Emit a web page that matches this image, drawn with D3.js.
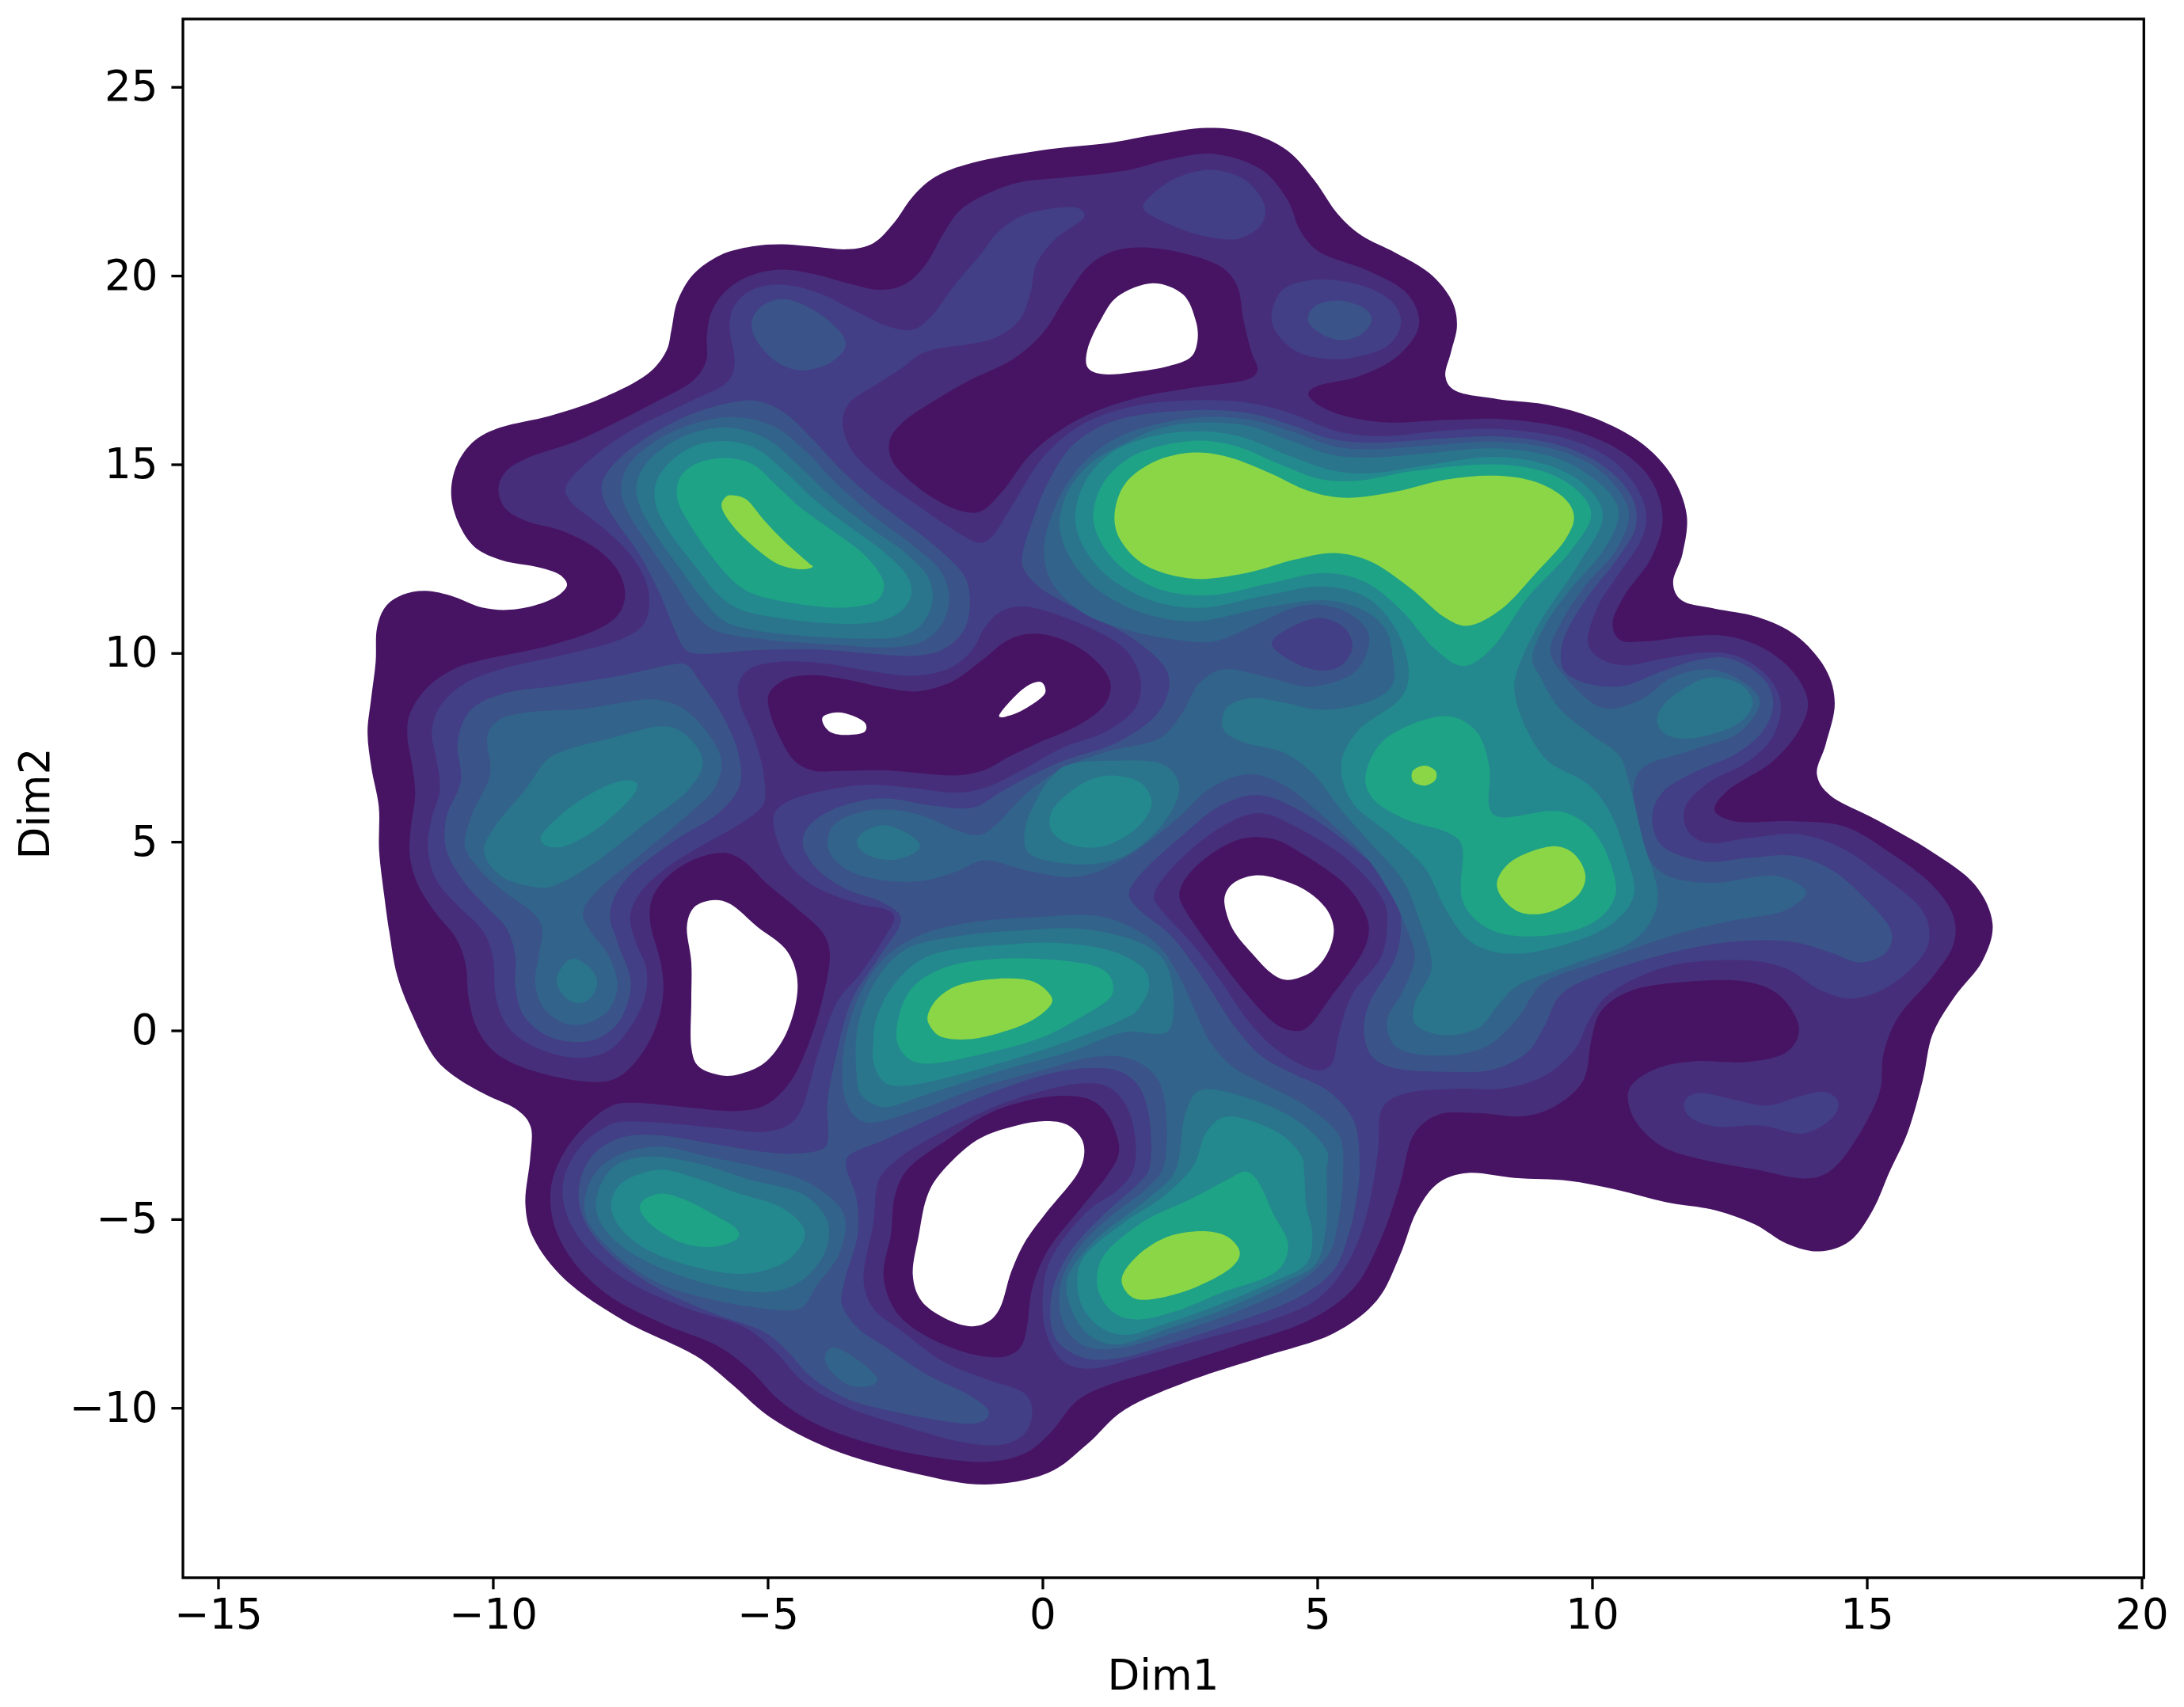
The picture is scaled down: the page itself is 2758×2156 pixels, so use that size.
<!DOCTYPE html>
<html><head><meta charset="utf-8">
<script src="https://cdn.jsdelivr.net/npm/d3@7"></script>
<style>html,body{margin:0;padding:0;background:#fff}svg{display:block}text{font-family:"DejaVu Sans";fill:#000}</style>
</head><body><svg id="c" width="2758" height="2156"></svg>
<script>
const xDomain=[-15.64,20.04], yDomain=[-14.5,26.8];
const xTicks=[-15,-10,-5,0,5,10,15,20], yTicks=[-10,-5,0,5,10,15,20,25];
const xLabel="Dim1", yLabel="Dim2";
const levelColors=["#471463","#472e7a","#423f86","#3a5489","#32648b","#2a758c","#23898e","#1fa386","#8bd646"];

// Density contours, in data units [Dim1, Dim2]
const L0outer=[[-1.39,22.98],[0,23.35],[1.28,23.51],[2.01,23.73],[3.02,23.96],[3.76,23.83],[4.49,23.35],[4.95,22.55],[5.37,21.59],[5.78,21.05],[6.42,20.62],[7.07,20.09],[7.48,19.34],[7.57,18.7],[7.43,17.95],[7.3,17.3],[7.43,16.93],[8.26,16.72],[9.18,16.61],[10.1,16.23],[10.93,15.59],[11.48,14.73],[11.77,13.66],[11.66,12.59],[11.43,11.84],[11.57,11.36],[12.21,11.18],[13.02,10.99],[13.73,10.52],[14.3,9.56],[14.46,8.7],[14.25,7.52],[14.04,6.77],[14.25,6.24],[15.17,5.6],[16.2,4.74],[17.03,3.88],[17.35,2.81],[17.15,1.85],[16.57,0.88],[16.16,-0.08],[16.04,-1.26],[15.75,-2.76],[15.41,-3.72],[15.12,-4.79],[14.71,-5.65],[14.13,-5.91],[13.55,-5.7],[12.97,-5.11],[12.28,-4.74],[11.35,-4.58],[10.42,-4.2],[9.61,-3.96],[8.57,-3.93],[7.7,-3.72],[7.18,-3.99],[6.79,-4.76],[6.51,-5.98],[6.13,-7.2],[5.35,-8.07],[4.03,-8.63],[2.71,-9.24],[1.39,-10.05],[0.83,-10.97],[0.17,-11.78],[-1.04,-12.11],[-2.25,-11.78],[-3.91,-11.12],[-5.01,-10.25],[-5.67,-9.34],[-6.22,-8.63],[-7.66,-7.71],[-8.76,-6.59],[-9.31,-5.47],[-9.44,-4.66],[-9.31,-3.34],[-9.28,-2.52],[-9.49,-2.12],[-10.15,-1.7],[-10.65,-1.28],[-11.06,-0.81],[-11.47,0.4],[-11.76,1.43],[-11.89,2.65],[-11.97,3.49],[-12.09,4.8],[-12.05,5.93],[-12.22,6.96],[-12.3,7.9],[-12.22,8.74],[-12.12,9.77],[-12.13,10.7],[-11.97,11.26],[-11.67,11.56],[-11.23,11.68],[-10.72,11.52],[-10.2,11.17],[-9.69,11.12],[-9.1,11.3],[-8.73,11.59],[-8.62,11.82],[-8.77,12.1],[-9.17,12.29],[-9.84,12.43],[-10.35,12.76],[-10.64,13.42],[-10.79,14.21],[-10.68,15.01],[-10.35,15.66],[-9.91,15.99],[-8.95,16.27],[-8.07,16.69],[-7.12,17.39],[-6.82,18],[-6.75,18.56],[-6.67,19.31],[-6.38,20.06],[-5.87,20.58],[-5.28,20.79],[-4.76,20.85],[-4.17,20.77],[-3.51,20.67],[-3.07,20.81],[-2.7,21.37],[-2.37,22.12],[-1.97,22.64]];
const hole1=[[2.01,19.8],[2.56,19.5],[2.79,18.8],[2.82,18.27],[2.7,17.84],[2.29,17.6],[1.64,17.44],[1.09,17.39],[0.82,17.57],[0.82,18.05],[1.05,18.8],[1.37,19.45]];
const hole2=[[-0.01,9.22],[0.05,8.95],[-0.2,8.63],[-0.56,8.36],[-0.79,8.33],[-0.47,8.9],[-0.2,9.19]];
const hole3=[[-3.99,8.32],[-3.74,8.43],[-3.45,8.34],[-3.22,8.13],[-3.24,7.91],[-3.57,7.83],[-3.85,7.9],[-3.99,8.13]];
const hole4=[[-6.01,3.45],[-5.68,3.35],[-5.19,2.75],[-4.69,2.18],[-4.48,1.53],[-4.48,0.78],[-4.69,-0.16],[-5.06,-0.86],[-5.52,-1.16],[-5.85,-1.19],[-6.26,-0.95],[-6.39,-0.44],[-6.39,0.78],[-6.39,1.81],[-6.47,2.75],[-6.34,3.26]];
const hole5=[[3.9,4.11],[4.28,4.02],[4.76,3.74],[5.15,3.25],[5.3,2.69],[5.19,2.06],[4.91,1.57],[4.47,1.34],[4.18,1.5],[3.8,2.06],[3.46,2.69],[3.31,3.39],[3.37,3.74],[3.56,3.98]];
const hole6=[[0.05,-2.4],[0.44,-2.49],[0.7,-2.84],[0.76,-3.26],[0.63,-3.81],[0.05,-4.86],[-0.33,-5.63],[-0.57,-6.4],[-0.76,-7.31],[-0.96,-7.69],[-1.29,-7.84],[-1.77,-7.63],[-2.2,-7.17],[-2.36,-6.47],[-2.25,-5.42],[-2.11,-4.44],[-1.87,-3.81],[-1.2,-2.91],[-0.48,-2.52]];

const L1outer=[[-1.1,22.12],[-1.53,21.75],[-1.82,21.09],[-2.12,20.25],[-2.48,19.74],[-2.92,19.58],[-3.51,19.78],[-4.17,20.06],[-4.76,20.2],[-5.35,20.02],[-5.79,19.6],[-6.05,19.03],[-6.12,18.38],[-6.09,17.72],[-6.31,17.21],[-7.04,16.65],[-7.85,16.04],[-8.51,15.57],[-9.39,15.19],[-9.8,14.82],[-9.93,14.35],[-9.8,13.79],[-9.39,13.46],[-8.73,13.27],[-8.07,12.76],[-7.7,12.2],[-7.56,11.54],[-7.7,10.98],[-8.07,10.61],[-8.95,10.18],[-10.42,9.76],[-10.73,9.58],[-11.22,9.11],[-11.55,8.36],[-11.57,7.8],[-11.47,7.05],[-11.39,6.3],[-11.51,5.27],[-11.53,4.62],[-11.39,3.87],[-11.06,3.12],[-10.65,2.46],[-10.48,1.81],[-10.46,0.87],[-10.31,0.03],[-9.98,-0.63],[-9.32,-1.09],[-8.25,-1.4],[-7.75,-1.33],[-7.34,-0.77],[-7,0.12],[-6.88,1.06],[-6.92,1.72],[-7.17,2.93],[-7.13,3.5],[-6.84,4.1],[-6.34,4.57],[-5.76,4.76],[-5.43,4.52],[-5.02,3.87],[-4.44,3.21],[-3.95,2.56],[-3.84,2.09],[-3.98,0.87],[-4.27,-0.46],[-4.56,-1.37],[-5.02,-2.03],[-5.52,-2.17],[-6.51,-2.03],[-7.5,-1.89],[-7.83,-1.94],[-8.33,-2.5],[-8.74,-3.25],[-8.98,-4.15],[-8.92,-5.17],[-8.54,-6.19],[-7.88,-7.1],[-6.88,-7.81],[-5.89,-8.32],[-5.34,-8.93],[-4.79,-9.85],[-4.13,-10.46],[-3.13,-10.97],[-2.03,-11.32],[-0.93,-11.48],[-0.27,-11.22],[0.17,-10.66],[0.61,-9.75],[1.17,-9.39],[2.16,-8.98],[3.48,-8.37],[4.91,-7.71],[5.69,-6.9],[6.13,-5.68],[6.51,-4.15],[6.72,-2.65],[7.18,-2.17],[7.88,-2.17],[8.8,-2.33],[9.38,-2],[9.9,-1.37],[9.98,-0.19],[10.13,0.56],[10.66,1.1],[11.7,1.31],[12.86,1.34],[13.44,0.99],[13.84,0.03],[13.61,-0.61],[12.86,-0.88],[11.81,-0.78],[11.12,-0.99],[10.6,-1.52],[10.71,-2.33],[11.24,-3.13],[12.05,-3.45],[12.97,-3.67],[13.96,-3.99],[14.36,-3.77],[14.88,-2.76],[15.29,-1.58],[15.27,-0.62],[15.52,0.35],[16.22,1.42],[16.62,2.28],[16.62,3.03],[16.22,3.88],[15.41,4.74],[14.6,5.49],[13.67,5.56],[12.51,5.49],[12.16,5.81],[12.39,6.34],[13.32,7.09],[13.79,7.95],[13.99,8.7],[13.67,9.56],[13.09,10.2],[12.4,10.5],[11.75,10.45],[10.93,10.29],[10.47,10.29],[10.33,10.77],[10.56,11.52],[11.11,12.49],[11.34,13.56],[11.11,14.63],[10.56,15.38],[9.64,15.97],[8.44,16.23],[7.34,16.18],[6.24,16.07],[5.41,16.29],[4.95,16.61],[4.81,16.88],[4.91,17.07],[5.78,17.3],[6.51,17.84],[6.93,18.7],[6.7,19.55],[5.96,20.14],[4.95,20.62],[4.68,21.16],[4.49,22.01],[4.03,22.87],[3.11,23.3],[2.29,23.09],[1.55,22.76],[0.45,22.6],[-0.47,22.5]];
const pocket1=[[1.83,20.78],[2.56,20.62],[3.3,20.25],[3.57,19.77],[3.65,18.8],[3.8,17.95],[3.94,17.47],[3.85,17.25],[2.75,17.04],[1.64,16.77],[0.63,16.23],[-0.2,15.38],[-0.75,14.2],[-1.11,13.72],[-1.31,13.7],[-1.75,13.88],[-2.34,14.44],[-2.78,15.1],[-2.81,15.66],[-2.56,16.13],[-1.97,16.69],[-1.39,17.2],[-0.47,17.79],[0.04,18.48],[0.4,19.39],[0.82,20.3],[1.28,20.68]];
const pocket2=[[-5.02,8.93],[-4.69,9.35],[-4.19,9.44],[-3.53,9.3],[-2.87,9.07],[-2.29,8.94],[-1.63,9.2],[-1.05,9.86],[-0.64,10.38],[-0.17,10.56],[0.45,10.35],[1,9.81],[1.28,9.22],[1.18,8.63],[0.72,8.1],[-0.15,7.58],[-0.64,7.24],[-1.05,6.87],[-1.55,6.73],[-2.21,6.82],[-2.95,6.91],[-3.61,6.88],[-4.19,6.85],[-4.52,7.1],[-4.77,7.71],[-4.98,8.46]];
const pocket3=[[2.49,3.6],[2.6,3.18],[3.03,2.27],[3.61,1.15],[4.18,0.24],[4.52,0],[4.81,0.07],[5.24,0.87],[5.82,2.06],[5.94,2.69],[5.82,3.25],[5.48,3.91],[4.76,4.65],[4.2,5.07],[3.6,5.07],[2.98,4.58],[2.6,4.02]];
const pocket4=[[-2.52,-3.67],[-1.68,-2.84],[-0.96,-2.14],[-0.23,-1.82],[0.44,-1.7],[0.92,-1.82],[1.2,-2.2],[1.4,-2.97],[1.4,-3.3],[1.21,-3.81],[0.73,-4.65],[0.05,-5.84],[-0.21,-6.82],[-0.28,-7.94],[-0.38,-8.42],[-0.65,-8.68],[-1.26,-8.63],[-2.14,-8.12],[-2.69,-7.51],[-2.95,-6.54],[-2.73,-5.35],[-2.71,-4.37]];

const L2main=[[-1.1,20.58],[-1.6,19.78],[-2.04,18.85],[-2.34,18.52],[-2.78,18.61],[-3.37,19.03],[-4.03,19.55],[-4.69,19.8],[-5.28,19.69],[-5.64,19.22],[-5.72,18.66],[-5.57,17.63],[-5.68,17.16],[-6.38,16.69],[-7.48,15.94],[-8.2,15.2],[-8.75,14.35],[-8.62,14.02],[-8.07,13.42],[-7.56,12.76],[-7.22,12.01],[-7.13,11.36],[-7.23,10.7],[-7.67,10.33],[-8.66,9.96],[-9.9,9.58],[-10.56,9.21],[-11.02,8.55],[-11.14,7.9],[-11.02,7.15],[-10.93,6.4],[-11.14,5.56],[-11.21,4.81],[-11.06,3.96],[-10.65,3.31],[-10.15,2.65],[-9.98,1.99],[-9.97,0.87],[-9.78,0.12],[-9.32,-0.44],[-8.5,-0.78],[-7.91,-0.63],[-7.5,0.03],[-7.21,0.87],[-7.17,1.62],[-7.42,2.37],[-7.54,3.03],[-7.34,3.68],[-6.84,4.34],[-6.26,4.85],[-5.6,5.37],[-5.14,5.84],[-5.04,6.02],[-5.06,6.87],[-5.27,7.9],[-5.52,8.64],[-5.56,9.2],[-5.35,9.63],[-4.77,9.81],[-3.86,9.72],[-3.2,9.53],[-2.29,9.35],[-1.63,9.58],[-1.22,10.14],[-1.1,10.6],[-0.85,11.05],[-0.5,11.25],[-0.2,11.25],[0.91,10.67],[1.55,10.13],[1.83,9.27],[1.74,8.52],[1.18,7.88],[0.34,7.52],[-0.39,6.87],[-1.05,6.4],[-1.55,6.26],[-2.37,6.44],[-3.28,6.54],[-4.03,6.35],[-4.69,6.07],[-4.94,5.74],[-4.81,4.9],[-4.61,4.34],[-4.11,3.73],[-3.28,3.31],[-2.79,3.21],[-2.65,3.03],[-2.87,2.46],[-3.33,1.43],[-3.74,0.87],[-4.08,-0.53],[-4.37,-2.14],[-4.56,-2.49],[-5.02,-2.73],[-5.85,-2.59],[-6.84,-2.45],[-7.67,-2.4],[-7.88,-2.47],[-8.43,-3.03],[-8.76,-3.95],[-8.7,-4.86],[-8.32,-5.78],[-7.55,-6.7],[-6.44,-7.41],[-5.39,-7.81],[-4.9,-8.42],[-4.35,-9.39],[-3.58,-10],[-2.58,-10.46],[-1.37,-10.97],[-0.71,-11.02],[-0.27,-10.7],[-0.16,-10.05],[-0.27,-9.59],[-0.93,-9.29],[-1.81,-8.83],[-2.57,-7.94],[-3.12,-7.38],[-3.31,-6.68],[-3.05,-5.07],[-3.02,-3.88],[-2.64,-3.4],[-2.16,-2.94],[-1.29,-2.28],[-0.43,-1.75],[0.73,-1.35],[1.2,-1.44],[1.54,-1.93],[1.71,-2.84],[1.69,-3.74],[1.35,-4.3],[0.87,-4.65],[0.2,-5.84],[0.01,-6.54],[0,-7.94],[0.34,-8.83],[0.83,-9.03],[1.72,-8.68],[2.93,-8.17],[4.14,-7.71],[5.02,-7.2],[5.58,-6.19],[5.91,-4.96],[6.13,-3.13],[6.13,-2.01],[6.46,-1.66],[7.64,-1.52],[8.4,-1.58],[9.15,-1.26],[9.73,-0.51],[9.96,0.35],[10.25,0.99],[11.35,1.79],[12.86,1.9],[13.55,1.69],[14.13,1.04],[14.71,0.78],[15.41,1.1],[16.1,2.06],[16.16,2.6],[16.04,3.24],[15.29,4.09],[14.6,4.84],[13.79,5.27],[12.86,5.11],[12.05,4.9],[11.7,5.27],[11.64,5.92],[12.05,6.56],[12.86,7.09],[13.32,7.74],[13.49,8.7],[13.2,9.45],[12.63,9.98],[12.05,10.04],[11.35,9.88],[10.54,9.61],[10.08,9.88],[9.87,10.24],[10.1,11.31],[10.47,12.06],[10.93,13.02],[11.02,13.66],[10.83,14.41],[10.38,15.16],[9.64,15.7],[8.36,15.97],[7.34,15.91],[6.24,15.72],[5.41,15.8],[4.49,16.39],[3.76,16.66],[2.75,16.72],[1.74,16.61],[0.72,16.13],[0,15.27],[-0.56,13.88],[-0.93,13.02],[-1.11,12.86],[-1.6,13.23],[-2.34,13.98],[-3.07,14.73],[-3.51,15.38],[-3.67,16.13],[-3.55,16.65],[-3.07,17.07],[-2.56,17.53],[-2.22,17.96],[-1.82,18.1],[-1.39,18.16],[-0.84,18.32],[-0.38,18.8],[-0.2,19.55],[-0.15,20.3],[0.17,20.94],[0.86,21.61],[0.68,21.8],[0.36,21.83],[-0.38,21.64],[-0.84,21.16]];
const L2top=[[3.11,22.8],[3.67,22.55],[4.03,21.91],[3.99,21.37],[3.57,20.98],[2.93,21.05],[2.29,21.37],[1.83,21.8],[2.1,22.28],[2.56,22.66]];
const L2right=[[5.04,19.9],[5.87,19.71],[6.38,19.28],[6.52,18.7],[6.24,18.1],[5.41,17.79],[4.68,17.95],[4.26,18.48],[4.17,19.02],[4.4,19.66]];
const L2lower=[[12.05,-1.66],[12.63,-1.85],[13.2,-1.99],[13.79,-1.74],[14.25,-1.63],[14.48,-1.9],[14.36,-2.33],[13.84,-2.73],[13.09,-2.52],[12.28,-2.55],[11.81,-2.33],[11.67,-2],[11.76,-1.74]];
const L2hole=[[3.94,5.76],[4.63,5.38],[5.56,4.52],[6.2,3.45],[6.27,2.76],[6.15,1.92],[5.63,0.94],[5.39,-0.11],[5.29,-0.81],[5.15,-1.02],[4.9,-1.03],[4.28,-0.53],[3.75,0.24],[3.22,1.36],[2.7,2.34],[2.17,3.18],[2.03,3.6],[2.43,4.42],[3.24,5.38]];

const L3upper=[[-5.2,16.74],[-4.69,16.41],[-4.17,15.66],[-3.66,14.82],[-3,13.98],[-2.19,13.13],[-1.67,12.48],[-1.38,12.01],[-1.3,11.4],[-1.38,10.61],[-1.79,10.05],[-2.29,9.9],[-3.12,9.98],[-3.95,10.1],[-5.19,10.1],[-6.31,9.95],[-6.49,10.04],[-6.67,10.51],[-6.97,11.64],[-7.34,12.67],[-7.78,13.51],[-8.03,14.16],[-8.03,14.63],[-7.56,15.38],[-6.75,16.13],[-5.87,16.6]];
const L3midLeft=[[-6.47,9.72],[-6.26,9.3],[-5.85,8.46],[-5.52,7.43],[-5.45,6.49],[-5.85,5.74],[-6.67,5.09],[-7.67,3.96],[-7.92,3.12],[-7.75,2.37],[-7.42,1.25],[-7.67,0.2],[-8.08,-0.25],[-8.5,-0.34],[-9.07,-0.16],[-9.49,0.4],[-9.61,1.15],[-9.57,2],[-9.73,2.75],[-10.15,3.31],[-10.56,3.96],[-10.89,4.81],[-10.89,5.65],[-10.52,6.58],[-10.69,7.71],[-10.44,8.55],[-9.82,8.97],[-8.91,9.11],[-7.67,9.39],[-6.59,9.75]];
const L3main=[[-0.38,12.59],[-0.2,13.45],[0.08,14.52],[0.54,15.59],[1.28,16.23],[2.75,16.47],[3.76,16.39],[4.49,16.07],[5.23,15.64],[5.96,15.54],[7.34,15.7],[8.36,15.77],[9.46,15.54],[10.28,14.95],[10.79,14.09],[10.84,13.34],[10.47,12.49],[9.92,11.52],[9.55,10.66],[9.41,10.02],[9.46,9.49],[9.87,9.17],[10.56,9.06],[11.2,9.49],[11.85,9.81],[12.4,9.93],[12.86,9.66],[13.26,9.13],[13.32,8.49],[13.09,7.84],[12.63,7.3],[11.81,6.83],[11.24,6.34],[11.06,5.7],[11.18,4.85],[12.05,4.4],[12.86,4.58],[13.67,4.69],[14.36,4.31],[14.94,3.56],[15.52,2.6],[15.41,2.06],[14.88,1.72],[14.37,2.06],[13.67,2.4],[12.51,2.38],[11.35,2.06],[9.96,1.42],[9.38,0.99],[9.15,0.13],[8.86,-0.61],[8.22,-1.1],[7.18,-1.1],[6.35,-1.02],[5.96,-0.74],[5.82,0.03],[5.91,0.73],[6.44,1.85],[6.54,2.69],[6.48,3.77],[5.67,4.85],[4.75,5.81],[3.94,6.34],[3.24,6.02],[2.54,5.17],[1.73,4.1],[1.53,3.6],[1.69,3.25],[2.36,2.55],[2.94,1.36],[3.51,0.03],[3.99,-0.74],[4.57,-1.16],[5.24,-1.58],[5.72,-2.35],[5.79,-3.74],[5.7,-4.6],[5.6,-5.3],[5.35,-6.39],[4.69,-7.1],[3.48,-7.76],[2.38,-8.27],[1.39,-8.73],[0.72,-8.73],[0.17,-8.22],[0.12,-7],[0.45,-5.88],[1.11,-4.86],[1.83,-3.95],[1.97,-3.74],[1.97,-2.28],[1.78,-1.44],[1.4,-1.02],[0.73,-0.98],[0,-1.16],[-1.2,-1.79],[-2.16,-2.42],[-2.88,-2.91],[-3.6,-3.33],[-3.6,-3.54],[-3.36,-4.44],[-3.33,-5.42],[-3.62,-6.68],[-3.7,-7.24],[-3.36,-7.94],[-2.91,-8.32],[-2.14,-9.13],[-1.26,-9.69],[-0.93,-10.1],[-1.04,-10.36],[-1.37,-10.46],[-2.58,-10.15],[-3.58,-9.8],[-4.24,-9.19],[-4.68,-8.42],[-5.01,-7.97],[-6,-7.51],[-7.1,-6.8],[-7.93,-5.88],[-8.37,-5.07],[-8.48,-4.15],[-8.21,-3.24],[-7.66,-2.78],[-6.99,-2.75],[-6.11,-2.98],[-5.12,-3.22],[-4.56,-3.29],[-3.94,-3.15],[-3.89,-2.98],[-3.94,-1.93],[-3.77,-0.74],[-3.5,0.87],[-2.99,1.9],[-2.46,3.03],[-2.87,3.4],[-3.61,3.73],[-4.11,4.24],[-4.4,4.9],[-4.32,5.37],[-3.86,5.88],[-2.95,6.23],[-1.96,5.93],[-1.22,5.84],[-0.8,6.3],[-0.22,6.75],[0.34,7.15],[1.37,7.58],[2.1,8.31],[2.33,9.06],[2.29,9.6],[1.64,10.45],[0.63,11.15],[-0.1,11.74],[-0.38,12.27]];
const L3hole=[[5.04,10.93],[5.5,10.66],[5.64,10.13],[5.41,9.65],[5.04,9.54],[4.58,9.75],[4.17,10.24],[4.49,10.66]];
const L3topLeft=[[-4.69,19.38],[-4.1,19.03],[-3.66,18.47],[-3.59,18.1],[-3.88,17.68],[-4.39,17.49],[-4.84,17.72],[-5.2,18.28],[-5.29,18.75],[-5.13,19.17]];
const L3circle=[[5.37,19.34],[5.87,19.12],[5.99,18.8],[5.78,18.43],[5.41,18.29],[5.05,18.48],[4.83,18.82],[4.95,19.18]];

const L4upper=[[-5.57,16.3],[-4.84,16.04],[-4.32,15.38],[-3.73,14.44],[-3.07,13.6],[-2.34,12.85],[-1.82,12.2],[-1.66,11.45],[-1.82,10.7],[-2.19,10.25],[-2.78,10.12],[-3.81,10.23],[-4.98,10.33],[-6.01,10.56],[-6.31,10.98],[-6.67,11.82],[-7.11,12.76],[-7.56,13.7],[-7.7,14.35],[-7.56,15.01],[-7.04,15.66],[-6.31,16.13]];
const L4midLeft=[[-7,8.81],[-6.51,8.55],[-6.1,7.94],[-5.79,7.15],[-5.93,6.4],[-6.43,5.74],[-7.34,4.62],[-8.16,3.68],[-8.41,3.12],[-8.25,2.65],[-7.87,2],[-7.69,1.15],[-7.87,0.5],[-8.33,0.12],[-8.74,0.17],[-9.11,0.59],[-9.26,1.25],[-9.16,2],[-9.07,2.75],[-9.24,3.12],[-9.82,3.68],[-10.31,4.34],[-10.56,4.9],[-10.4,5.74],[-9.98,6.77],[-10.15,7.9],[-9.9,8.27],[-9.32,8.46],[-8.33,8.5],[-7.67,8.69]];
const L4main=[[2.75,16.29],[3.76,16.23],[4.58,15.86],[5.32,15.43],[5.96,15.38],[6.88,15.48],[8.26,15.64],[9.36,15.43],[10.1,14.95],[10.56,14.2],[10.72,13.66],[10.47,12.7],[9.82,11.74],[9.41,10.77],[9.18,10.02],[9.44,9.45],[10.19,8.38],[10.89,8.7],[11.47,9.45],[12.28,9.66],[13.21,8.81],[12.74,7.84],[11.81,7.42],[10.71,6.99],[10.77,5.38],[11.18,4.1],[12.05,3.83],[13.44,4.2],[14.02,3.67],[13.55,3.13],[12.51,2.92],[11.58,2.6],[9.96,1.74],[9.03,1.31],[8.69,0.35],[8.11,-0.51],[7.18,-0.72],[6.37,-0.51],[6.2,0.24],[6.6,1.1],[6.83,1.95],[6.6,2.81],[6.37,3.56],[5.91,4.63],[5.09,5.7],[4.4,6.56],[3.76,6.88],[3.01,6.45],[2.55,5.7],[1.5,4.52],[0.69,3.99],[-0.24,4.2],[-0.97,4.54],[-1.13,4.52],[-1.55,4.2],[-2.21,3.92],[-2.95,3.96],[-3.61,4.24],[-3.95,4.8],[-3.86,5.46],[-3.37,5.79],[-2.87,5.88],[-2.21,5.74],[-1.55,5.27],[-1.13,5.13],[-0.88,5.37],[-0.31,6.3],[0.34,6.96],[1.15,7.41],[2.2,7.68],[2.55,8.38],[2.83,9.24],[3.24,9.66],[4.17,9.34],[4.86,9.02],[5.79,9.45],[6.02,10.52],[5.6,11.09],[5.04,11.31],[4.58,11.25],[3.76,10.67],[3.11,10.24],[2.47,10.34],[1.64,10.56],[0.73,10.99],[0.13,11.84],[-0.01,12.7],[0.17,13.77],[0.63,14.95],[1.37,15.81]];
const L4lower=[[-1.37,2.89],[0.07,3.02],[0.92,3.08],[1.4,2.9],[2.12,2.34],[2.5,1.43],[2.84,0.31],[3.03,-0.32],[3.46,-1.02],[3.99,-1.4],[4.76,-1.93],[5.48,-2.76],[5.48,-3.74],[5.38,-5.17],[5.24,-5.98],[4.69,-6.7],[3.48,-7.51],[2.27,-8.07],[1.39,-8.47],[0.72,-8.42],[0.34,-7.81],[0.28,-6.69],[0.67,-5.68],[1.28,-4.86],[1.94,-4.15],[2.26,-3.74],[2.24,-1.58],[2.02,-1.09],[1.54,-0.67],[0.92,-0.67],[0.25,-0.95],[-1.2,-1.51],[-2.16,-2.07],[-3.12,-2.49],[-3.31,-2.42],[-3.57,-2],[-3.65,-1.44],[-3.63,-0.39],[-3.36,0.94],[-2.91,1.95],[-2.25,2.56]];
const L4lowerLeft=[[-6.99,-3.08],[-6.11,-3.34],[-5.12,-3.64],[-4.24,-4.05],[-3.62,-4.86],[-3.69,-5.88],[-4.13,-6.8],[-4.35,-7.3],[-4.68,-7.41],[-5.78,-7.2],[-6.99,-6.69],[-7.88,-5.78],[-8.32,-4.86],[-8.21,-3.95],[-7.77,-3.34]];
const L4small=[[-3.8,-8.4],[-3.36,-8.73],[-3.02,-9.19],[-3.08,-9.39],[-3.47,-9.42],[-3.85,-9.03],[-3.96,-8.63]];

const L5upper=[[-5.64,16.01],[-4.98,15.71],[-4.39,14.91],[-3.81,14.07],[-3.15,13.32],[-2.48,12.67],[-2.04,12.01],[-1.97,11.36],[-2.19,10.7],[-2.56,10.42],[-3.07,10.37],[-4.17,10.42],[-5.28,10.6],[-5.79,10.79],[-6.16,11.36],[-6.53,12.11],[-7.04,13.13],[-7.34,13.88],[-7.42,14.4],[-7.26,15.01],[-6.75,15.62],[-6.16,15.94]];
const L5main=[[2.75,16.13],[3.76,16.07],[4.58,15.59],[5.23,15.22],[5.96,15.16],[6.88,15.27],[8.26,15.48],[9.36,15.22],[10.01,14.68],[10.42,14.09],[10.53,13.66],[10.24,12.7],[9.55,11.63],[9.09,10.66],[8.86,9.81],[9.03,9.45],[9.38,8.49],[9.96,7.84],[10.54,7.31],[10.66,6.67],[10.89,5.17],[11.29,3.35],[10.89,2.38],[9.61,1.74],[8.57,1.2],[8.28,0.67],[7.99,0.03],[7.3,-0.19],[6.72,0.13],[6.72,0.67],[7.18,1.63],[6.83,3.03],[6.6,3.99],[5.91,5.06],[5.44,5.81],[4.92,6.88],[4.4,7.42],[3.59,7.63],[3.24,7.95],[3.3,8.59],[3.76,8.86],[4.4,8.7],[5.04,8.43],[6.02,8.7],[6.43,9.13],[6.37,9.98],[6.29,10.6],[5.96,11.09],[5.23,11.47],[4.12,11.25],[2.75,10.75],[1.74,11.04],[0.77,11.84],[0.27,13.13],[0.36,14.09],[0.82,15.05],[1.55,15.59],[2.1,15.97]];
const L5rightLobe=[[12.22,9.36],[12.74,9.13],[12.92,8.65],[12.63,8.11],[11.81,7.74],[11.35,7.84],[11.18,8.22],[11.35,8.7],[11.81,9.18]];
const L5midLobe=[[0.46,7.04],[1.39,7.15],[2.2,7.04],[2.49,6.45],[2.2,5.49],[1.5,4.63],[0.69,4.4],[-0.24,4.69],[-0.31,5.37],[-0.14,6.02],[0.1,6.6]];
const L5leftLobe=[[-2.87,5.44],[-2.41,5.18],[-2.23,4.9],[-2.37,4.67],[-2.79,4.52],[-3.2,4.67],[-3.38,4.99],[-3.24,5.27]];
const L5center=[[-1.48,2.51],[-0.27,2.66],[0.72,2.69],[1.72,2.36],[2.21,1.85],[2.38,0.94],[2.27,-0.03],[1.49,-0.04],[0.49,-0.56],[-0.72,-1.05],[-2.16,-1.72],[-2.88,-2.03],[-3.29,-1.72],[-3.38,-1.23],[-3.36,0.12],[-3.02,1.34],[-2.47,2.16]];
const L5bottom=[[2.89,-1.58],[3.8,-1.82],[4.66,-2.42],[5.17,-3.18],[5.17,-3.74],[5.16,-5.17],[4.97,-6.19],[4.36,-6.69],[3.26,-7.41],[2.27,-7.91],[1.39,-8.32],[0.89,-8.12],[0.56,-7.5],[0.45,-6.59],[0.94,-5.58],[1.83,-4.56],[2.41,-3.74],[2.6,-2.2]];
const L5lowerLeft=[[-7.1,-3.34],[-6.22,-3.54],[-5.34,-3.95],[-4.35,-4.35],[-3.91,-5.07],[-3.96,-5.88],[-4.35,-6.59],[-4.9,-6.92],[-5.67,-6.85],[-6.88,-6.34],[-7.77,-5.58],[-8.12,-4.76],[-7.99,-3.95],[-7.66,-3.49]];
const L5midLeft=[[-6.92,8.06],[-6.51,7.85],[-6.18,7.15],[-6.43,6.4],[-7.25,5.46],[-8.16,4.43],[-8.83,3.87],[-9.16,3.79],[-9.82,4.06],[-10.16,4.71],[-9.98,5.37],[-9.4,6.4],[-9.03,7.15],[-8.66,7.43],[-7.83,7.75]];
const L5smallLeft=[[-8.5,1.9],[-8.21,1.62],[-8.1,1.25],[-8.25,0.83],[-8.5,0.73],[-8.74,0.97],[-8.84,1.34],[-8.7,1.76]];

const L6upper=[[-5.72,15.64],[-5.2,15.47],[-4.62,14.73],[-4.17,14.07],[-3.59,13.42],[-2.85,12.67],[-2.41,12.01],[-2.36,11.54],[-2.56,11.07],[-3,10.79],[-3.81,10.76],[-4.84,10.93],[-5.5,11.12],[-5.87,11.45],[-6.31,12.29],[-6.82,13.23],[-7.08,13.98],[-7.04,14.63],[-6.67,15.24],[-6.23,15.57]];
const L6main=[[2.75,15.91],[3.57,15.8],[4.49,15.22],[5.32,14.79],[5.96,14.73],[6.88,14.95],[8.26,15.27],[9.27,15],[9.96,14.41],[10.3,13.66],[9.78,12.38],[9,10.77],[8.58,9.38],[8.57,8.95],[8.8,7.95],[9.15,7.09],[9.96,6.56],[10.31,5.92],[10.66,4.52],[10.83,3.56],[10.42,2.81],[9.61,2.28],[8.45,1.95],[7.76,2.28],[7.3,3.24],[7.01,4.31],[6.37,5.17],[5.56,6.02],[5.38,7.09],[5.67,7.95],[6.6,8.81],[6.7,9.4],[6.51,10.56],[5.96,11.52],[5.14,11.84],[4.03,11.52],[2.84,11.12],[1.92,11.36],[1,12.16],[0.54,13.34],[0.68,14.41],[1.18,15.32],[1.92,15.75]];
const L6midLobe=[[1.33,6.75],[1.79,6.56],[1.99,6.02],[1.73,5.38],[1.15,4.9],[0.57,4.9],[0.17,5.27],[0.17,5.81],[0.52,6.34],[0.92,6.67]];
const L6center=[[-2.03,2],[-0.6,2.28],[0.39,2.31],[1.28,2.1],[1.83,1.65],[1.94,1.14],[1.72,0.53],[1.49,0.31],[0.73,-0.14],[-0.24,-0.63],[-1.68,-1.23],[-2.54,-1.47],[-2.88,-1.37],[-3.07,-0.88],[-3.08,-0.3],[-3.02,0.33],[-2.69,1.24]];
const L6bottom=[[3.37,-2.28],[4.28,-2.7],[4.71,-3.32],[4.76,-3.74],[4.8,-4.66],[4.91,-5.37],[4.8,-6.19],[4.14,-6.69],[3.15,-7.3],[2.16,-7.81],[1.5,-8.07],[1,-7.81],[0.67,-7.1],[0.72,-6.08],[1.5,-5.07],[2.2,-4.4],[2.74,-3.6],[2.98,-2.7]];
const L6lowerLeft=[[-6.99,-3.69],[-6.33,-3.9],[-5.56,-4.3],[-4.79,-4.66],[-4.37,-5.17],[-4.35,-5.58],[-4.68,-6.13],[-5.34,-6.44],[-6.11,-6.34],[-7.1,-5.88],[-7.66,-5.27],[-7.85,-4.66],[-7.66,-4.05]];
const L6midLeft=[[-7.58,6.63],[-7.38,6.54],[-7.46,6.21],[-8.08,5.37],[-8.66,4.9],[-8.99,4.87],[-9.13,5.04],[-9.07,5.27],[-8.58,5.93],[-8,6.44]];

const L7upper=[[-5.79,15.17],[-5.28,15.01],[-4.84,14.44],[-4.39,13.84],[-3.81,13.23],[-3.22,12.57],[-2.89,11.87],[-3,11.4],[-3.37,11.24],[-3.88,11.21],[-4.84,11.4],[-5.42,11.68],[-5.87,12.29],[-6.38,13.32],[-6.64,14.07],[-6.6,14.63],[-6.31,15.01]];
const L7main=[[2.75,15.68],[3.48,15.54],[4.31,15],[5.04,14.57],[5.69,14.52],[6.7,14.84],[8.26,15.05],[9.18,14.84],[9.82,14.25],[10.06,13.66],[9.64,12.7],[8.81,11.52],[8.17,10.02],[7.66,9.54],[7.16,10.02],[6.52,11.2],[5.87,11.95],[5.14,12.19],[4.12,11.84],[3.02,11.47],[2.1,11.63],[1.28,12.38],[0.86,13.45],[1.05,14.52],[1.64,15.32]];
const L7mid=[[5.88,6.77],[6.25,7.74],[7.3,8.33],[7.88,7.95],[8.13,6.99],[8.13,5.92],[8.34,5.65],[9.38,5.81],[9.96,5.38],[10.31,4.52],[10.42,3.56],[9.96,2.81],[8.92,2.49],[8.11,2.7],[7.64,3.45],[7.64,4.85],[7.41,5.22],[6.6,5.6],[6.02,6.13]];
const L7center=[[-0.82,1.9],[0.5,1.83],[1.11,1.6],[1.28,1.24],[1.23,0.87],[0.73,0.38],[0,-0.18],[-0.91,-0.56],[-2.16,-0.88],[-2.54,-0.6],[-2.66,-0.04],[-2.42,1.04],[-1.81,1.65]];
const L7lowerLeft=[[-6.94,-4.32],[-6.55,-4.46],[-6,-4.86],[-5.56,-5.27],[-5.56,-5.52],[-6,-5.73],[-6.55,-5.63],[-7.1,-5.17],[-7.32,-4.76],[-7.27,-4.51]];
const L7bottom=[[3.7,-3.74],[3.92,-4],[4.2,-4.86],[4.47,-5.68],[4.25,-6.39],[3.26,-6.95],[2.38,-7.46],[1.72,-7.66],[1.28,-7.46],[1,-6.8],[1.11,-5.98],[1.83,-5.07],[2.71,-4.46],[3.37,-3.95]];

const L8upper=[[-5.64,14.18],[-5.39,14.07],[-5.06,13.51],[-4.69,12.95],[-4.25,12.38],[-4.18,12.29],[-4.39,12.22],[-4.84,12.38],[-5.42,13.04],[-5.75,13.6],[-5.84,13.93],[-5.75,14.15]];
const L8main=[[2.75,15.36],[3.39,15.22],[4.13,14.79],[4.86,14.25],[5.5,14.07],[6.42,14.25],[7.34,14.63],[8.26,14.73],[9,14.57],[9.55,14.09],[9.71,13.61],[9.55,13.02],[9,12.16],[8.35,11.09],[7.71,10.64],[7.34,10.88],[6.7,11.74],[5.96,12.49],[5.32,12.7],[4.58,12.49],[3.76,12.11],[2.75,11.9],[1.83,12.27],[1.37,13.02],[1.28,13.66],[1.46,14.52],[2.01,15.11]];
const L8dot=[[6.95,7.02],[7.15,6.88],[7.15,6.64],[6.95,6.49],[6.74,6.61],[6.74,6.88]];
const L8mid=[[9.27,4.88],[9.67,4.68],[9.88,4.1],[9.73,3.56],[9.21,3.13],[8.69,3.13],[8.34,3.56],[8.28,3.99],[8.57,4.52]];
const L8center=[[-0.82,1.37],[-0.16,1.29],[0.17,0.87],[0.1,0.59],[-0.33,0.17],[-1.2,-0.21],[-1.82,-0.18],[-2.04,0.1],[-2.09,0.38],[-1.92,0.83],[-1.54,1.19]];
const L8bottom=[[2.93,-5.32],[3.37,-5.47],[3.59,-5.88],[3.43,-6.29],[2.71,-6.85],[1.94,-7.13],[1.61,-7.05],[1.44,-6.59],[1.72,-5.98],[2.27,-5.47]];

const levelRings=[
 [L0outer,hole1,hole2,hole3,hole4,hole5,hole6],
 [L1outer,pocket1,pocket2,pocket3,pocket4],
 [L2main,L2top,L2right,L2lower,L2hole],
 [L3upper,L3midLeft,L3main,L3hole,L3topLeft,L3circle],
 [L4upper,L4midLeft,L4main,L4lower,L4lowerLeft,L4small],
 [L5upper,L5main,L5rightLobe,L5midLobe,L5leftLobe,L5center,L5bottom,L5lowerLeft,L5midLeft,L5smallLeft],
 [L6upper,L6main,L6midLobe,L6center,L6bottom,L6lowerLeft,L6midLeft],
 [L7upper,L7main,L7mid,L7center,L7lowerLeft,L7bottom],
 [L8upper,L8main,L8dot,L8mid,L8center,L8bottom]
];

const svg=d3.select("#c");
const box={left:231,right:2707.3,top:24,bottom:1992.7};
const x=d3.scaleLinear().domain(xDomain).range([box.left,box.right]);
const y=d3.scaleLinear().domain(yDomain).range([box.bottom,box.top]);
// Long traced rings get a light neighbour average to take out reading noise.
const ease=r=>r.length<20?r:r.map((p,i)=>{
  const a=r[(i-1+r.length)%r.length],b=r[(i+1)%r.length];
  return [0.12*a[0]+0.76*p[0]+0.12*b[0],0.12*a[1]+0.76*p[1]+0.12*b[1]];
});
const ring=d3.line().x(d=>x(d[0])).y(d=>y(d[1])).curve(d3.curveCatmullRomClosed.alpha(0.25));

svg.append("g").selectAll("path").data(levelRings).join("path")
  .attr("d",rings=>rings.map(r=>ring(ease(r))).join(" "))
  .attr("fill",(d,i)=>levelColors[i]).attr("fill-rule","evenodd");

const fontSize=53, sw=3.3, tickLen=14.6;
const ax=svg.append("g").attr("transform",`translate(0,${box.bottom})`)
  .call(d3.axisBottom(x).tickValues(xTicks).tickSizeOuter(0).tickSize(tickLen).tickPadding(12));
const ay=svg.append("g").attr("transform",`translate(${box.left},0)`)
  .call(d3.axisLeft(y).tickValues(yTicks).tickSizeOuter(0).tickSize(tickLen).tickPadding(17));
[ax,ay].forEach(g=>{
  g.select(".domain").remove();
  g.selectAll("line").attr("stroke","#000").attr("stroke-width",sw);
  g.selectAll("text").attr("font-size",fontSize).attr("font-family","DejaVu Sans").attr("fill","#000");
});
svg.append("rect").attr("x",box.left).attr("y",box.top).attr("width",box.right-box.left).attr("height",box.bottom-box.top)
  .attr("fill","none").attr("stroke","#000").attr("stroke-width",sw);
svg.append("text").attr("x",1469).attr("y",2134).attr("text-anchor","middle").attr("font-size",fontSize).text(xLabel);
svg.append("text").attr("transform","translate(62,1015) rotate(-90)").attr("text-anchor","middle").attr("font-size",fontSize).text(yLabel);
</script></body></html>
